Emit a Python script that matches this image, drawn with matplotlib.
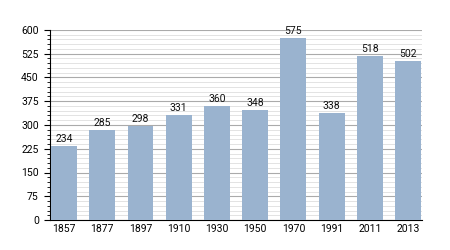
import matplotlib
matplotlib.use('Agg')
import matplotlib.pyplot as plt
from matplotlib.ticker import MultipleLocator

years = ['1857', '1877', '1897', '1910', '1930', '1950', '1970', '1991', '2011', '2013']
population = [234, 285, 298, 331, 360, 348, 575, 338, 518, 502]

plt.rcParams['font.family'] = ['Roboto', 'DejaVu Sans']

fig = plt.figure(figsize=(4.5, 2.5), dpi=100)
ax = fig.add_axes([0.111, 0.12, 0.827, 0.76])

x = range(len(years))
ax.bar(x, population, width=0.68, color='#9ab3cf', zorder=3)

# value labels above each bar
for xi, v in zip(x, population):
    ax.text(xi, v + 6, str(v), ha='center', va='bottom', fontsize=7.5, color='#111111', zorder=4)

ax.set_xlim(-0.37, len(years) - 0.63)
ax.set_ylim(0, 600)
ax.set_xticks(list(x))
ax.set_xticklabels(years)
ax.yaxis.set_major_locator(MultipleLocator(75))
ax.yaxis.set_minor_locator(MultipleLocator(15))

ax.grid(axis='y', which='major', color='#aaaaaa', linewidth=0.8, zorder=0)
ax.grid(axis='y', which='minor', color='#dedede', linewidth=0.6, zorder=0)

for side in ['top', 'right']:
    ax.spines[side].set_visible(False)
ax.spines['left'].set_linewidth(0.8)
ax.spines['bottom'].set_linewidth(0.8)

ax.tick_params(axis='y', which='major', length=4, width=0.8, labelsize=7.5, pad=4)
ax.tick_params(axis='y', which='minor', length=2, width=0.6)
ax.tick_params(axis='x', length=0, labelsize=7.5, pad=3)

fig.savefig('out.png', dpi=100)
